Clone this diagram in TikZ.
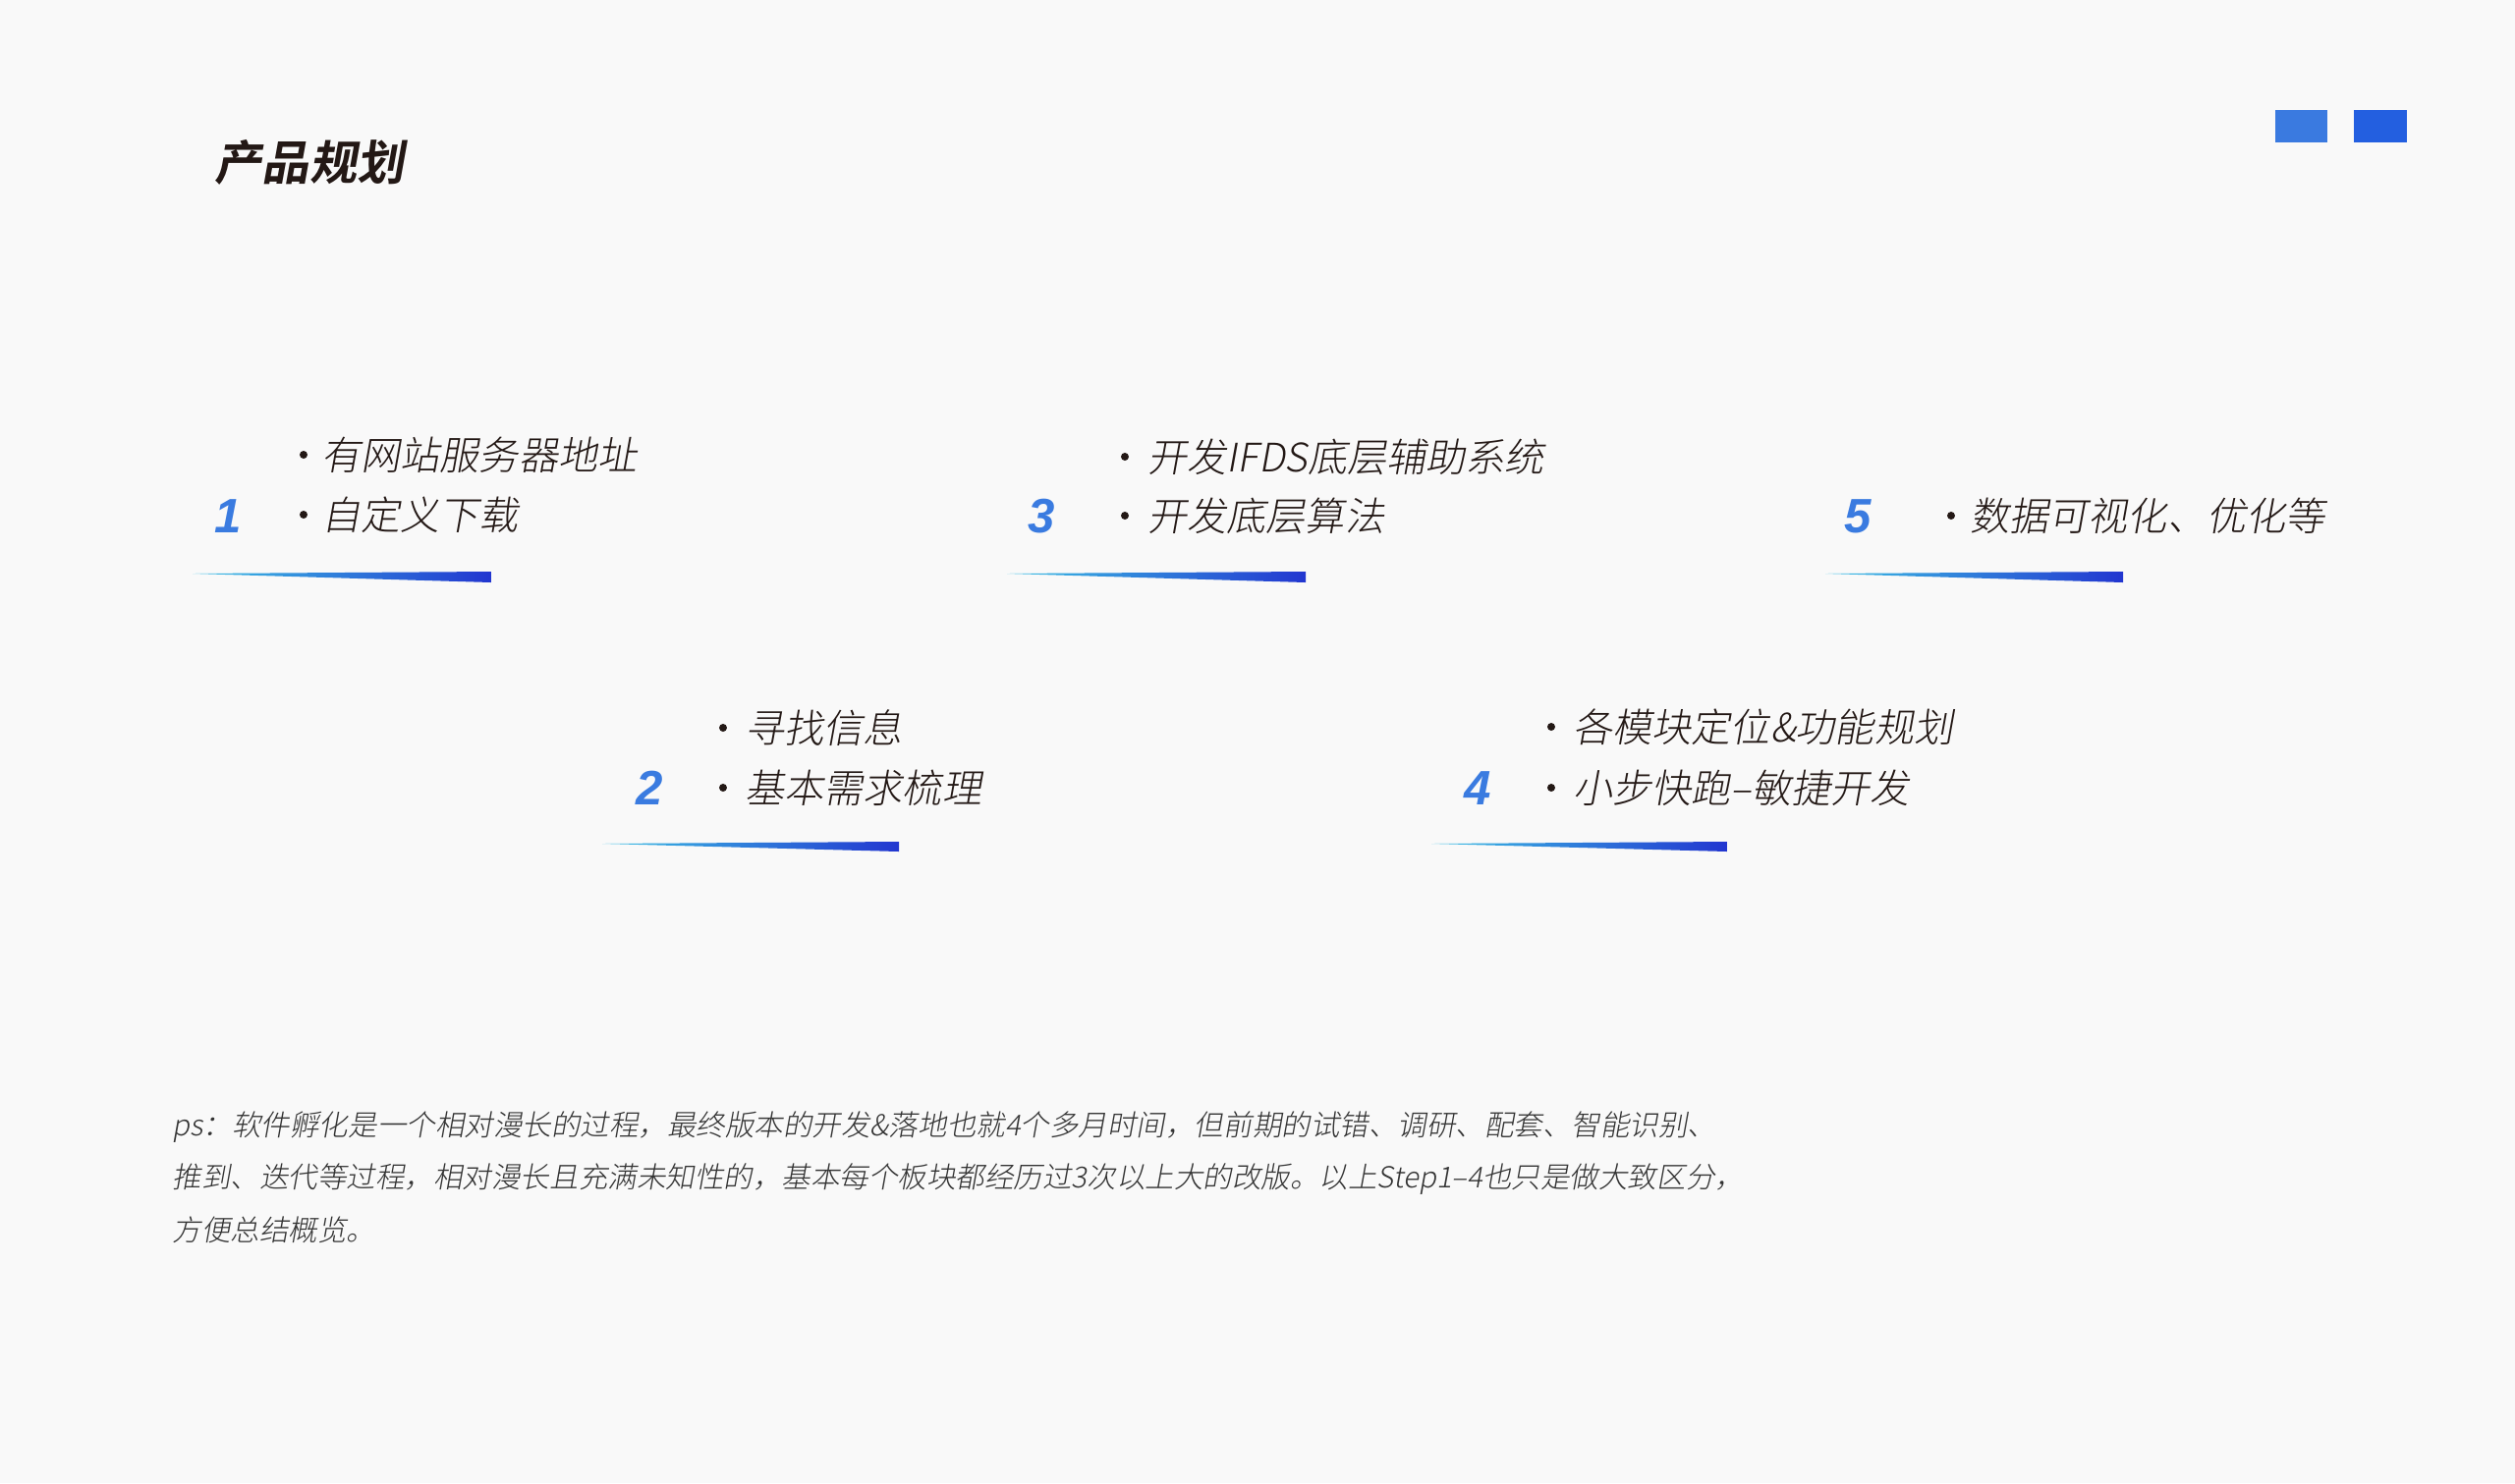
\documentclass[tikz,border=0pt]{standalone}
\usepackage{fontspec}
\setmainfont{Liberation Sans}
\newfontfamily\cjkbold{Noto Sans CJK SC Bold}[FakeSlant=0.18]
\newfontfamily\cjklight{Noto Sans CJK SC Light}[FakeSlant=0.18]
\newfontfamily\numfont{Liberation Sans}

\definecolor{bgcol}{HTML}{F9F9F9}
\definecolor{textdark}{HTML}{231815}
\definecolor{notegray}{HTML}{333333}
\definecolor{numblue}{HTML}{3A7BE0}
\definecolor{sqlight}{HTML}{3A7AE0}
\definecolor{sqdark}{HTML}{235FE0}
\definecolor{barcyan}{HTML}{3CC0E4}
\definecolor{barmid}{HTML}{0A96C8}
\definecolor{barblue}{HTML}{2236D0}

\begin{document}
\begin{tikzpicture}[x=0.1mm, y=-0.1mm,
  num/.style={font=\numfont\bfseries\itshape\fontsize{14}{14}\selectfont, text=numblue, anchor=base, inner sep=0pt},
  item/.style={font=\cjklight\fontsize{11.4}{11.4}\selectfont, text=textdark, anchor=base west, inner sep=0pt},
  note/.style={font=\cjklight\fontsize{8.4}{8.4}\selectfont, text=notegray, anchor=base west, inner sep=0pt},
  bar/.style={left color=barcyan, middle color=barmid, right color=barblue, draw=none}]

\useasboundingbox (0,0) rectangle (2560,1510);
\fill[bgcol] (0,0) rectangle (2560,1510);

% title and corner marks
\node[font=\cjkbold\fontsize{13.7}{13.7}\selectfont, text=textdark, anchor=base west, inner sep=0pt] (title) at (218,183) {产品规划};
\fill[sqlight] (2316,112) rectangle (2369,145);
\fill[sqdark] (2396,112) rectangle (2450,145);

% step 1
\node[num] (n1) at (232,542) {1};
\fill[textdark] (309,463) circle (4) (309,524) circle (4);
\node[item] (s1a) at (327,478) {有网站服务器地址};
\node[item] (s1b) at (327,539) {自定义下载};
\shade[bar] (196,584) -- (500,582) -- (500,593) -- cycle;

% step 3
\node[num] (n3) at (1060,542) {3};
\fill[textdark] (1145,465) circle (4) (1145,525) circle (4);
\node[item] (s3a) at (1168,480) {开发IFDS底层辅助系统};
\node[item] (s3b) at (1168,540) {开发底层算法};
\shade[bar] (1025,584) -- (1329,582) -- (1329,593) -- cycle;

% step 5
\node[num] (n5) at (1891,542) {5};
\fill[textdark] (1986,525) circle (4);
\node[item] (s5a) at (2005,540) {数据可视化、优化等};
\shade[bar] (1858,584) -- (2161,582) -- (2161,593) -- cycle;

% step 2
\node[num] (n2) at (661,819) {2};
\fill[textdark] (736,741) circle (4) (736,802) circle (4);
\node[item] (s2a) at (758,756) {寻找信息};
\node[item] (s2b) at (758,817) {基本需求梳理};
\shade[bar] (613,859) -- (915,857) -- (915,867) -- cycle;

% step 4
\node[num] (n4) at (1504,819) {4};
\fill[textdark] (1579,740) circle (4) (1579,802) circle (4);
\node[item] (s4a) at (1601,755) {各模块定位\&功能规划};
\node[item] (s4b) at (1601,817) {小步快跑–敏捷开发};
\shade[bar] (1457,859) -- (1758,857) -- (1758,867) -- cycle;

% note
\node[note] (ps1) at (175,1156) {ps：软件孵化是一个相对漫长的过程，最终版本的开发\&落地也就4个多月时间，但前期的试错、调研、配套、智能识别、};
\node[note] (ps2) at (175,1209) {推到、迭代等过程，相对漫长且充满未知性的，基本每个板块都经历过3次以上大的改版。以上Step1–4也只是做大致区分，};
\node[note] (ps3) at (175,1263) {方便总结概览。};

\end{tikzpicture}
\end{document}
